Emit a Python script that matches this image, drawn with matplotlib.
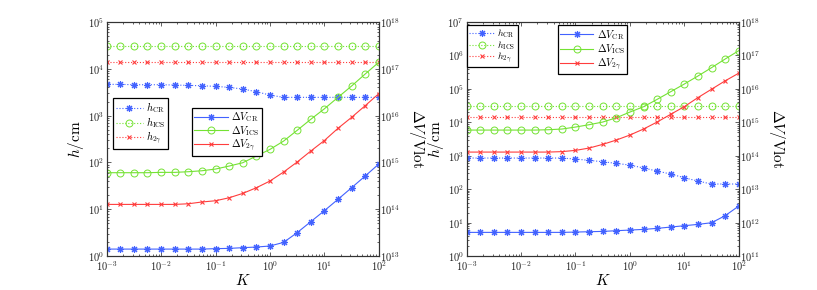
import matplotlib
matplotlib.use("Agg")
import matplotlib.pyplot as plt
from matplotlib.ticker import LogLocator, FuncFormatter, NullFormatter
import numpy as np

plt.rcParams['mathtext.fontset'] = 'cm'
plt.rcParams['axes.unicode_minus'] = False

# K grid (4 points per decade)
K = [1e-3, 1.78e-3, 3.16e-3, 5.62e-3, 1e-2, 1.78e-2, 3.16e-2, 5.62e-2,
     1e-1, 1.78e-1, 3.16e-1, 5.62e-1, 1e0, 1.78e0, 3.16e0, 5.62e0,
     1e1, 1.78e1, 3.16e1, 5.62e1, 1e2]

# ---- left panel: heights (cm)
h_cr_a = [4660, 4660, 4580, 4580, 4580, 4510, 4430, 4360, 4220, 4020, 3700,
          3250, 2750, 2460, 2460, 2460, 2460, 2460, 2460, 2460, 2460]
h_ics_a = [3.1e4] * 21
h_2g_a = [1.42e4] * 21
# left panel: voltages (Volt)
dv_cr_a = [1.41e13, 1.41e13, 1.41e13, 1.41e13, 1.41e13, 1.41e13, 1.41e13,
           1.41e13, 1.44e13, 1.46e13, 1.51e13, 1.56e13, 1.64e13, 1.96e13,
           3.16e13, 5.42e13, 9.31e13, 1.63e14, 2.88e14, 5.12e14, 9.25e14]
dv_ics_a = [6.04e14, 6.04e14, 6.04e14, 6.04e14, 6.14e14, 6.14e14, 6.34e14,
            6.65e14, 7.23e14, 8.38e14, 9.86e14, 1.37e15, 1.90e15, 2.86e15,
            4.85e15, 8.34e15, 1.40e16, 2.46e16, 4.29e16, 7.74e16, 1.38e17]
dv_2g_a = [1.27e14, 1.27e14, 1.27e14, 1.27e14, 1.27e14, 1.27e14, 1.31e14,
           1.43e14, 1.52e14, 1.76e14, 2.18e14, 2.88e14, 4.01e14, 6.24e14,
           1.02e15, 1.75e15, 2.94e15, 5.36e15, 9.18e15, 1.63e16, 2.94e16]

# ---- right panel
h_cr_b = [855, 855, 855, 855, 855, 855, 855, 855, 798, 728, 664, 592, 527,
          430, 349, 284, 220, 175, 143, 143, 143]
h_ics_b = [3.07e4] * 21
h_2g_b = [1.41e4] * 21
dv_cr_b = [5.11e11, 5.11e11, 5.11e11, 5.11e11, 5.11e11, 5.11e11, 5.11e11,
           5.11e11, 5.22e11, 5.35e11, 5.47e11, 5.73e11, 6.00e11, 6.28e11,
           6.73e11, 7.38e11, 8.09e11, 8.87e11, 9.93e11, 1.61e12, 3.13e12]
dv_ics_b = [5.87e14, 5.87e14, 5.87e14, 5.87e14, 5.87e14, 5.87e14, 6.01e14,
            6.30e14, 7.23e14, 8.49e14, 1.02e15, 1.37e15, 2.03e15, 2.93e15,
            4.86e15, 8.24e15, 1.40e16, 2.43e16, 4.31e16, 7.82e16, 1.39e17]
dv_2g_b = [1.29e14, 1.29e14, 1.29e14, 1.29e14, 1.29e14, 1.29e14, 1.29e14,
           1.33e14, 1.45e14, 1.70e14, 2.19e14, 2.95e14, 4.17e14, 6.31e14,
           1.02e15, 1.74e15, 2.95e15, 5.50e15, 9.77e15, 1.74e16, 2.95e16]

c_blue = '#4262ff'
c_green = '#74e233'
c_red = '#ff3d3d'
ast = (8, 2, 0)  # matlab-like asterisk


def sf_pow(v, pos):
    return r'$\mathsf{10^{%d}}$' % int(round(np.log10(v)))


def style_log(a):
    a.set_major_locator(LogLocator(base=10, numticks=20))
    a.set_minor_locator(LogLocator(base=10, subs=np.arange(2, 10), numticks=20))
    a.set_major_formatter(FuncFormatter(sf_pow))
    a.set_minor_formatter(NullFormatter())


def make_legend(ax, handles, anchor, hl, sp, fs):
    lg = ax.legend(handles, [h.get_label() for h in handles],
                   loc='upper left', bbox_to_anchor=anchor, fontsize=fs,
                   fancybox=False, framealpha=1, edgecolor='black',
                   handlelength=hl, borderpad=0.25, labelspacing=sp,
                   handletextpad=0.3, borderaxespad=0)
    lg.get_frame().set_linewidth(0.9)
    return lg


def panel(ax, hlims, vlims, h_cr, h_ics, h_2g, dv_cr, dv_ics, dv_2g,
          leg_h, leg_v, sp_h, sp_v, fs_h):
    ax2 = ax.twinx()
    l1, = ax.plot(K, h_cr, ls=':', color=c_blue, marker=ast, ms=5, mew=0.8,
                  lw=0.8, label=r'$h_{\rm CR}$')
    l2, = ax.plot(K, h_ics, ls=':', color=c_green, marker='o', ms=5, mew=0.7,
                  mfc='none', lw=0.8, label=r'$h_{\rm ICS}$')
    l3, = ax.plot(K, h_2g, ls=':', color=c_red, marker='x', ms=3.5, mew=0.8,
                  lw=0.8, label=r'$h_{2\gamma}$')
    m1, = ax2.plot(K, dv_cr, ls='-', color=c_blue, marker=ast, ms=5, mew=0.8,
                   lw=0.8, label=r'$\Delta V_{\rm CR}$')
    m2, = ax2.plot(K, dv_ics, ls='-', color=c_green, marker='o', ms=5, mew=0.7,
                   mfc='none', lw=0.8, label=r'$\Delta V_{\rm ICS}$')
    m3, = ax2.plot(K, dv_2g, ls='-', color=c_red, marker='x', ms=3.5, mew=0.8,
                   lw=0.8, label=r'$\Delta V_{2\gamma}$')
    for a in (ax, ax2):
        a.set_xscale('log')
        a.set_yscale('log')
        a.set_xlim(1e-3, 1e2)
    ax.set_ylim(*hlims)
    ax2.set_ylim(*vlims)
    style_log(ax.xaxis)
    style_log(ax.yaxis)
    style_log(ax2.yaxis)
    ax.tick_params(which='both', direction='in', top=True, right=False,
                   labelsize=7.5, colors='#222222', width=0.5, pad=2)
    ax2.tick_params(which='both', direction='in', labelsize=7.5,
                    colors='#222222', width=0.5, pad=1)
    for a in (ax, ax2):
        a.tick_params(which='major', length=3)
        a.tick_params(which='minor', length=1.6)
        for s in a.spines.values():
            s.set_linewidth(0.8)
            s.set_color('#333333')
    ax.set_xlabel(r'$K$', fontsize=11, labelpad=0)
    ax.set_ylabel(r'$h/{\rm cm}$', fontsize=11, labelpad=1)
    ax2.set_ylabel(r'$\Delta V/{\rm Vlot}$', fontsize=11, rotation=270,
                   va='bottom', labelpad=5)
    lg1 = make_legend(ax2, [l1, l2, l3], leg_h, 2.6, sp_h, fs_h)
    ax2.add_artist(lg1)
    make_legend(ax2, [m1, m2, m3], leg_v, 3.2, sp_v, 7.5)
    return ax2


fig = plt.figure(figsize=(8.17, 2.90), dpi=100)
axL = fig.add_axes([0.1306, 0.117, 0.333, 0.807])
axR = fig.add_axes([0.5712, 0.117, 0.333, 0.807])

panel(axL, (1e0, 1e5), (1e13, 1e18), h_cr_a, h_ics_a, h_2g_a,
      dv_cr_a, dv_ics_a, dv_2g_a, (0.023, 0.676), (0.312, 0.634),
      0.0, 0.0, 7.5)
panel(axR, (1e0, 1e7), (1e11, 1e18), h_cr_b, h_ics_b, h_2g_b,
      dv_cr_b, dv_ics_b, dv_2g_b, (0.0, 0.987), (0.334, 0.986),
      -0.12, 0.05, 7)

fig.savefig('out.png', dpi=100)
